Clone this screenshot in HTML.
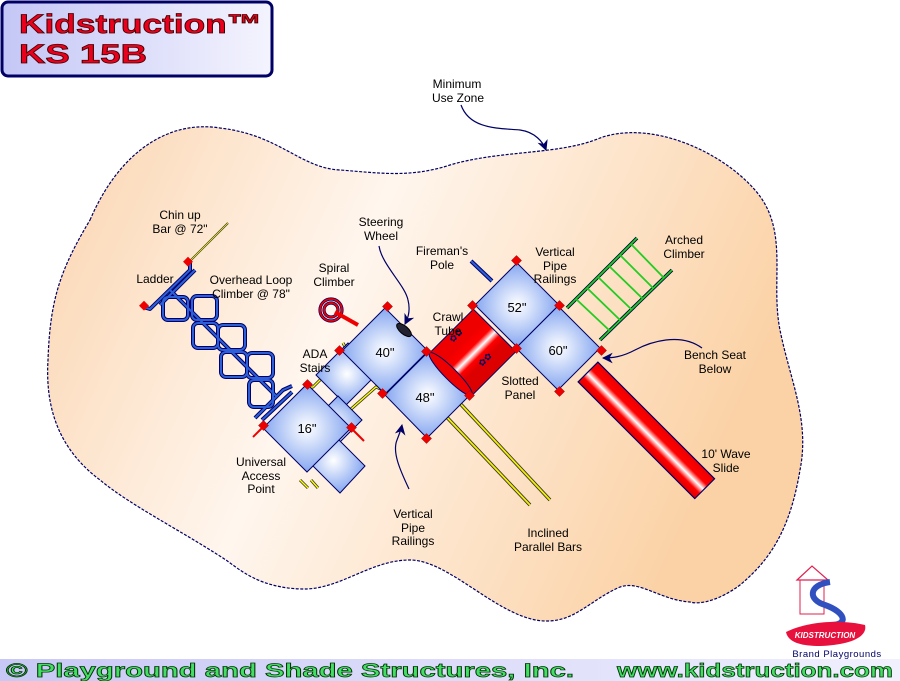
<!DOCTYPE html>
<html><head><meta charset="utf-8"><style>
html,body{margin:0;padding:0;background:#fff;width:900px;height:681px;overflow:hidden}
svg{display:block}
text{font-family:"Liberation Sans",sans-serif}
.l{font-size:12px;fill:#000}
</style></head><body>
<svg width="900" height="681" viewBox="0 0 900 681" xmlns="http://www.w3.org/2000/svg">
<defs>
<linearGradient id="cloud" x1="0" y1="0" x2="1" y2="0.3">
<stop offset="0" stop-color="#fbd4ae"/><stop offset="0.45" stop-color="#fff6ee"/><stop offset="1" stop-color="#fbd2a6"/>
</linearGradient>
<radialGradient id="deck" cx="0.5" cy="0.5" r="0.6">
<stop offset="0" stop-color="#ffffff"/><stop offset="1" stop-color="#6d95ee"/>
</radialGradient>
<linearGradient id="title" x1="0" y1="0" x2="1" y2="0">
<stop offset="0" stop-color="#c4c6f6"/><stop offset="1" stop-color="#f4f4fe"/>
</linearGradient>
<linearGradient id="bar" x1="0" y1="0" x2="1" y2="0">
<stop offset="0" stop-color="#c8c8f6"/><stop offset="1" stop-color="#f0f0fe"/>
</linearGradient>
<linearGradient id="slide" gradientUnits="userSpaceOnUse" x1="0" y1="-14" x2="0" y2="14">
<stop offset="0" stop-color="#e00"/><stop offset="0.35" stop-color="#f00"/><stop offset="0.55" stop-color="#fff"/><stop offset="0.75" stop-color="#f00"/><stop offset="1" stop-color="#d00"/>
</linearGradient>
<marker id="ar" viewBox="0 0 10 10" refX="9" refY="5" markerWidth="9" markerHeight="9" orient="auto"><path d="M0,0 L10,5 L0,10 L3,5z" fill="#000066"/></marker>
</defs>

<!-- title -->
<rect x="2" y="2" width="270" height="74" rx="6" fill="url(#title)" stroke="#000066" stroke-width="3"/>
<text x="19" y="33" font-size="27" font-weight="bold" fill="#e8001c" stroke="#400" stroke-width="0.8" textLength="243" lengthAdjust="spacingAndGlyphs">Kidstruction™</text>
<text x="19" y="63" font-size="27" font-weight="bold" fill="#e8001c" stroke="#400" stroke-width="0.8" textLength="128" lengthAdjust="spacingAndGlyphs">KS 15B</text>

<!-- cloud -->
<path d="M90,220 C120,150 170,120 220,128 C280,135 300,168 340,170 C380,173 410,178 450,165 C500,150 560,155 600,138 C650,120 720,150 755,190 C790,230 770,280 780,330 C790,380 810,420 800,470 C790,530 770,560 740,585 C720,600 700,605 690,602 C660,600 640,580 620,587 C590,600 575,622 545,621 C500,620 450,560 410,560 C370,560 340,590 302,589 C260,588 240,570 226,560 C180,530 130,505 100,480 C60,450 45,410 48,360 C50,300 60,270 90,220Z" fill="url(#cloud)" stroke="#000066" stroke-width="1.2" stroke-dasharray="3,1.5"/>

<!-- Inclined parallel bars -->
<g stroke="#333" stroke-width="3.5"><line x1="455" y1="398" x2="550" y2="500"/><line x1="440" y1="410" x2="530" y2="505"/></g>
<g stroke="#f4f000" stroke-width="1.8"><line x1="455" y1="398" x2="550" y2="500"/><line x1="440" y1="410" x2="530" y2="505"/></g>

<!-- Arched climber -->
<g stroke="#004" stroke-width="3.5" fill="none"><line x1="567" y1="308" x2="637" y2="238"/><line x1="600" y1="340" x2="672" y2="270"/></g>
<g stroke="#2c2" stroke-width="1.8" fill="none"><line x1="567" y1="308" x2="637" y2="238"/><line x1="600" y1="340" x2="672" y2="270"/>
<line x1="576" y1="299" x2="610" y2="331"/><line x1="587" y1="288" x2="620" y2="320"/><line x1="598" y1="277" x2="631" y2="309"/><line x1="609" y1="266" x2="642" y2="298"/><line x1="620" y1="255" x2="653" y2="288"/><line x1="631" y1="244" x2="664" y2="278"/></g>

<!-- Slide -->
<g transform="translate(588,372) rotate(45)"><rect x="0" y="-14" width="165" height="28" fill="url(#slide)" stroke="#000066" stroke-width="1.2"/></g>

<!-- Overhead loop climber & ladder -->
<g id="loops" fill="none" stroke="#000066" stroke-width="4" stroke-linejoin="round">
<path d="M143,307 L150,309 L190,270 L190,262"/><path d="M160,305 L195,270"/><path d="M255,418 L283,390 L292,386"/><path d="M262,420 L292,392"/>
<line x1="170" y1="290" x2="277" y2="397"/>
<rect x="163" y="297" width="25" height="23" rx="5"/>
<rect x="192" y="296" width="25" height="24" rx="5"/>
<rect x="193" y="323" width="25" height="25" rx="5"/>
<rect x="218" y="325" width="27" height="25" rx="5"/>
<rect x="221" y="352" width="26" height="25" rx="5"/>
<rect x="247" y="353" width="26" height="25" rx="5"/>
<rect x="249" y="380" width="24" height="27" rx="5"/>
</g>
<g fill="none" stroke="#2d5fd8" stroke-width="2" stroke-linejoin="round">
<path d="M143,307 L150,309 L190,270 L190,262"/><path d="M160,305 L195,270"/><path d="M255,418 L283,390 L292,386"/><path d="M262,420 L292,392"/>
<line x1="170" y1="290" x2="277" y2="397"/>
<rect x="163" y="297" width="25" height="23" rx="5"/>
<rect x="192" y="296" width="25" height="24" rx="5"/>
<rect x="193" y="323" width="25" height="25" rx="5"/>
<rect x="218" y="325" width="27" height="25" rx="5"/>
<rect x="221" y="352" width="26" height="25" rx="5"/>
<rect x="247" y="353" width="26" height="25" rx="5"/>
<rect x="249" y="380" width="24" height="27" rx="5"/>
</g>
<line x1="189" y1="262" x2="228" y2="223" stroke="#333" stroke-width="2"/><line x1="189" y1="262" x2="228" y2="223" stroke="#ff0" stroke-width="0.8"/>
<rect x="185" y="258" width="7" height="7" fill="#e00" transform="rotate(45 188 261)"/>
<rect x="141" y="302" width="7" height="7" fill="#e00" transform="rotate(45 144 305)"/>

<!-- Spiral climber -->
<g fill="none" stroke="#000066" stroke-width="3.2"><circle cx="331" cy="310" r="11"/><circle cx="331" cy="310" r="7"/></g>
<g fill="none" stroke="#e00" stroke-width="1.8"><circle cx="331" cy="310" r="11"/><circle cx="331" cy="310" r="7"/></g>
<line x1="335" y1="312" x2="358" y2="325" stroke="#e00" stroke-width="4"/>

<!-- Fireman's pole -->
<line x1="471" y1="261" x2="492" y2="281" stroke="#000066" stroke-width="4"/><line x1="471" y1="261" x2="492" y2="281" stroke="#2d5fd8" stroke-width="2"/>

<!-- ADA stairs / handrails yellow -->
<g fill="none" stroke="#333" stroke-width="3"><path d="M343,343 L348,352 L320,380 L313,387 L306,388"/><path d="M383,390 L376,387 L350,410 L349,425"/><path d="M300,480 L308,488"/><path d="M311,480 L318,488"/></g>
<g fill="none" stroke="#ff0" stroke-width="1.4"><path d="M343,343 L348,352 L320,380 L313,387 L306,388"/><path d="M383,390 L376,387 L350,410 L349,425"/><path d="M300,480 L308,488"/><path d="M311,480 L318,488"/></g>

<!-- decks -->
<g stroke="#000066" stroke-width="1" fill="url(#deck)">
<polygon points="316,375 348,343 378,373 346,405"/>
<polygon points="306,428 338,396 362,420 330,452"/>
<polygon points="327,428 365,466 340,493 302,455"/>
<polygon points="307,384 351,428 307,472 263,428"/>
<polygon points="385,308 428,351 385,394 342,351"/>
<polygon points="428,352 470,395 427,438 385,395"/>
<polygon points="517,263 559,305 517,347 475,305"/>
<polygon points="558,306 600,348 558,390 516,348"/>
</g>

<!-- crawl tube -->
<g transform="translate(472,353) rotate(-45)"><rect x="-30" y="-30" width="62" height="60" fill="url(#slide)" stroke="#000066" stroke-width="1"/><ellipse cx="-30" cy="0" rx="6" ry="30" fill="#e00" stroke="#000066"/></g>
<text x="450" y="340" font-size="9" fill="#000066" transform="rotate(-45 455 338)">✿✿</text>
<text x="479" y="364" font-size="9" fill="#000066" transform="rotate(-45 484 362)">✿✿</text>

<!-- steering wheel -->
<ellipse cx="404" cy="330" rx="9" ry="4" fill="#223" stroke="#000" transform="rotate(40 404 330)"/>

<!-- red corner posts -->
<g fill="#e00" stroke="#a00" stroke-width="0.5">
<rect x="384" y="303" width="7" height="7" transform="rotate(45 387.5 306.5)"/>
<rect x="336" y="347" width="7" height="7" transform="rotate(45 339.5 350.5)"/>
<rect x="423" y="348" width="7" height="7" transform="rotate(45 426.5 351.5)"/>
<rect x="379" y="390" width="7" height="7" transform="rotate(45 382.5 393.5)"/>
<rect x="466" y="392" width="7" height="7" transform="rotate(45 469.5 395.5)"/>
<rect x="423" y="435" width="7" height="7" transform="rotate(45 426.5 438.5)"/>
<rect x="260" y="422" width="7" height="7" transform="rotate(45 263.5 425.5)"/>
<rect x="348" y="424" width="7" height="7" transform="rotate(45 351.5 427.5)"/>
<rect x="304" y="381" width="7" height="7" transform="rotate(45 307.5 384.5)"/>
<rect x="513" y="257" width="7" height="7" transform="rotate(45 516.5 260.5)"/>
<rect x="469" y="302" width="7" height="7" transform="rotate(45 472.5 305.5)"/>
<rect x="556" y="302" width="7" height="7" transform="rotate(45 559.5 305.5)"/>
<rect x="513" y="345" width="7" height="7" transform="rotate(45 516.5 348.5)"/>
<rect x="598" y="347" width="7" height="7" transform="rotate(45 601.5 350.5)"/>
<rect x="556" y="388" width="7" height="7" transform="rotate(45 559.5 391.5)"/>
</g>
<g stroke="#e00" stroke-width="2"><line x1="262" y1="428" x2="253" y2="437"/><line x1="353" y1="430" x2="364" y2="441"/></g>

<!-- deck labels -->
<g font-size="13" fill="#000" text-anchor="middle">
<text x="385" y="357">40"</text><text x="425" y="402">48"</text><text x="307" y="433">16"</text><text x="517" y="312">52"</text><text x="558" y="355">60"</text>
</g>

<!-- leaders -->
<g fill="none" stroke="#000066" stroke-width="1.2" marker-end="url(#ar)">
<path d="M461,105 C470,130 500,128 520,130 C535,132 543,142 546,150"/>
<path d="M379,246 C382,265 405,285 408,300 C411,312 407,320 405,324"/>
<path d="M409,489 C400,470 392,452 397,440 C400,432 401,430 402,425"/>
<path d="M702,348 C680,332 650,342 635,350 C622,357 612,358 603,358"/>
</g>

<!-- labels -->
<g class="l" font-size="12" text-anchor="middle">
<text x="457" y="88">Minimum</text><text x="458" y="102">Use Zone</text>
<text x="180" y="219">Chin up</text><text x="180" y="233">Bar @ 72"</text>
<text x="155" y="283">Ladder</text>
<text x="251" y="284">Overhead Loop</text><text x="251" y="298">Climber @ 78"</text>
<text x="381" y="226">Steering</text><text x="381" y="240">Wheel</text>
<text x="334" y="272">Spiral</text><text x="334" y="286">Climber</text>
<text x="442" y="255">Fireman's</text><text x="442" y="269">Pole</text>
<text x="555" y="256">Vertical</text><text x="555" y="270">Pipe</text><text x="555" y="283">Railings</text>
<text x="684" y="244">Arched</text><text x="684" y="258">Climber</text>
<text x="448" y="321">Crawl</text><text x="448" y="335">Tube</text>
<text x="315" y="358">ADA</text><text x="315" y="372">Stairs</text>
<text x="520" y="385">Slotted</text><text x="520" y="399">Panel</text>
<text x="715" y="359">Bench Seat</text><text x="715" y="373">Below</text>
<text x="261" y="466">Universal</text><text x="261" y="480">Access</text><text x="261" y="493">Point</text>
<text x="413" y="518">Vertical</text><text x="413" y="532">Pipe</text><text x="413" y="545">Railings</text>
<text x="548" y="537">Inclined</text><text x="548" y="551">Parallel Bars</text>
<text x="726" y="458">10' Wave</text><text x="726" y="472">Slide</text>
</g>

<!-- logo -->
<g>
<path d="M797,580 L812,566 L828,580Z" fill="#fff" stroke="#e02050" stroke-width="1.2"/>
<rect x="800" y="580" width="24" height="34" fill="none" stroke="#e02050" stroke-width="1"/>
<path d="M830,582 C808,585 808,600 825,605 C845,612 850,625 830,625" fill="none" stroke="#3050c0" stroke-width="6"/>
<path d="M786,632 C810,620 845,620 865,625 C868,637 850,645 820,646 C800,646 788,642 786,632Z" fill="#e8103c"/>
<text x="825" y="638" font-size="8" font-weight="bold" font-style="italic" fill="#fff" text-anchor="middle">KIDSTRUCTION</text>
<text x="837" y="657" font-size="9.5" fill="#000066" text-anchor="middle" letter-spacing="0.5">Brand Playgrounds</text>
</g>

<!-- bottom bar -->
<rect x="0" y="659" width="900" height="22" fill="url(#bar)"/>
<text x="6" y="677" font-size="19" font-weight="bold" fill="#44dd66" stroke="#003300" stroke-width="0.7" textLength="568" lengthAdjust="spacingAndGlyphs">© Playground and Shade Structures, Inc.</text>
<text x="617" y="677" font-size="19" font-weight="bold" fill="#44dd66" stroke="#003300" stroke-width="0.7" textLength="276" lengthAdjust="spacingAndGlyphs">www.kidstruction.com</text>
</svg>
</body></html>
